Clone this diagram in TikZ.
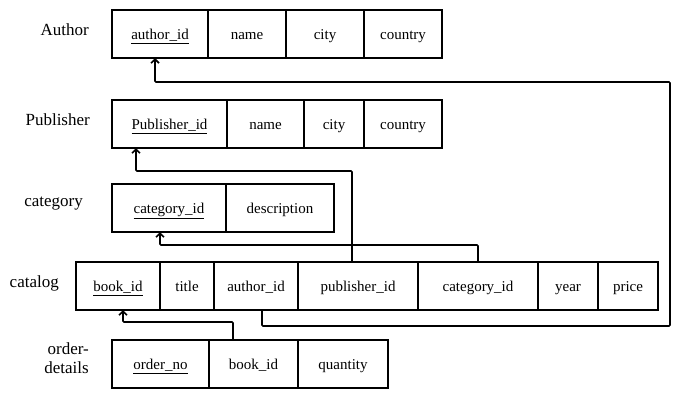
\documentclass[tikz,border=0pt]{standalone}
\usepackage{fontspec}
\setmainfont{Liberation Serif}
\usepackage{tikz}
\usetikzlibrary{arrows.meta,positioning}

\begin{document}
\begin{tikzpicture}[
    x=1pt, y=-1pt,
    node distance=0pt,
    cell/.style={draw, line width=1.8pt, minimum height=48pt, inner sep=0pt, outer sep=0pt, text height=13pt, text depth=2pt, font=\fontsize{15}{18}\selectfont},
    tname/.style={anchor=east, align=right, inner sep=0pt, font=\fontsize{17}{20}\selectfont},
    fk/.style={-{Straight Barb[length=4pt, width=8pt, line width=1.6pt]}, line width=1.6pt, rounded corners=1pt}
]
\useasboundingbox (0,0) rectangle (691,407);

% table names
\node[tname] (author) at (89,30) {Author};
\node[tname] (publisher) at (90,120) {Publisher};
\node[tname] (category) at (83,204) {category};
\node[tname] (catalog) at (59,283) {catalog};
\node[tname] (orderdetails) at (89,358) {order-\\[-1pt]details};

% Author
\node[cell, minimum width=96pt, anchor=north west] (auth-id) at (112,10) {\underline{author\_id}};
\node[cell, minimum width=78pt, right=of auth-id] (auth-name) {name};
\node[cell, minimum width=78pt, right=of auth-name] (auth-city) {city};
\node[cell, minimum width=78pt, right=of auth-city] (auth-country) {country};

% Publisher
\node[cell, minimum width=115pt, anchor=north west] (pub-id) at (112,100) {\underline{Publisher\_id}};
\node[cell, minimum width=77pt, right=of pub-id] (pub-name) {name};
\node[cell, minimum width=60pt, right=of pub-name] (pub-city) {city};
\node[cell, minimum width=78pt, right=of pub-city] (pub-country) {country};

% category
\node[cell, minimum width=114pt, anchor=north west] (catg-id) at (112,184) {\underline{category\_id}};
\node[cell, minimum width=108pt, right=of catg-id] (catg-desc) {description};

% catalog
\node[cell, minimum width=84pt, anchor=north west] (cat-book) at (76,262) {\underline{book\_id}};
\node[cell, minimum width=54pt, right=of cat-book] (cat-title) {title};
\node[cell, minimum width=84pt, right=of cat-title] (cat-auth) {author\_id};
\node[cell, minimum width=120pt, right=of cat-auth] (cat-pub) {publisher\_id};
\node[cell, minimum width=120pt, right=of cat-pub] (cat-catg) {category\_id};
\node[cell, minimum width=60pt, right=of cat-catg] (cat-year) {year};
\node[cell, minimum width=60pt, right=of cat-year] (cat-price) {price};

% order-details
\node[cell, minimum width=97pt, anchor=north west] (ord-no) at (112,340) {\underline{order\_no}};
\node[cell, minimum width=89pt, right=of ord-no] (ord-book) {book\_id};
\node[cell, minimum width=90pt, right=of ord-book] (ord-qty) {quantity};

% foreign keys
\coordinate (rail) at (670,82);
\draw[fk] ([xshift=6pt]cat-auth.south) -- ++(0,16) -| (rail) -| ([xshift=-5pt]auth-id.south);
\draw[fk] ([xshift=-6pt]cat-pub.north) -- ++(0,-91) -| ([xshift=-33.5pt]pub-id.south);
\draw[fk] (cat-catg.north) -- ++(0,-17) -| ([xshift=-9pt]catg-id.south);
\draw[fk] ([xshift=-20.5pt]ord-book.north) -- ++(0,-18) -| ([xshift=5pt]cat-book.south);
\end{tikzpicture}
\end{document}
